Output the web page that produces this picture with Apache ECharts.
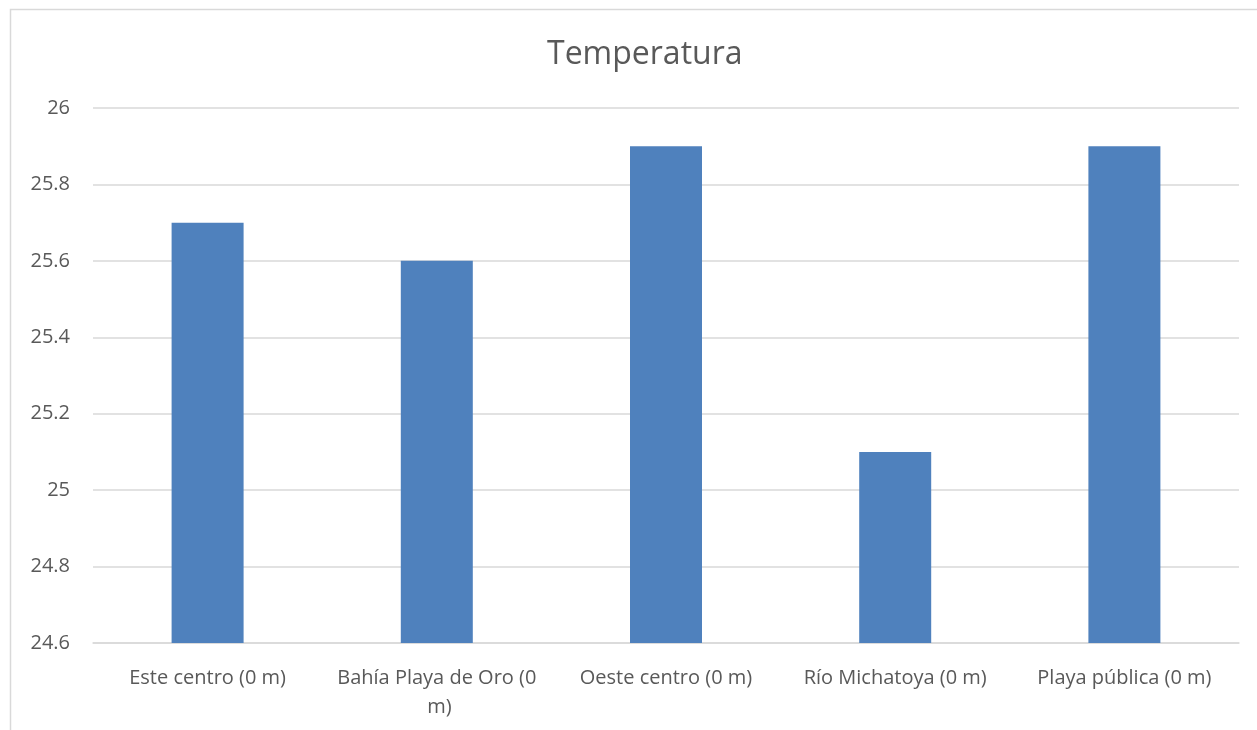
<!DOCTYPE html>
<html><head><meta charset="utf-8">
<script src="https://cdn.jsdelivr.net/npm/echarts@6/dist/echarts.min.js"></script>
<style>html,body{margin:0;padding:0;background:#fff;}#c{width:1257px;height:730px;}</style>
</head><body><div id="c"></div>
<script>
const categories = ['Este centro (0 m)', 'Bahía Playa de Oro (0 m)', 'Oeste centro (0 m)', 'Río Michatoya (0 m)', 'Playa pública (0 m)'];
const values = [25.7, 25.6, 25.9, 25.1, 25.9];
const titleText = 'Temperatura';
const chart = echarts.init(document.getElementById('c'), null, {renderer: 'canvas'});
const font = '"Open Sans", "Liberation Sans", sans-serif';
chart.setOption({
  animation: false,
  backgroundColor: '#fff',
  title: {text: titleText, left: 542, top: 34, textStyle: {fontFamily: font, fontSize: 32, fontWeight: 'normal', color: '#595959'}},
  grid: {left: 93, right: 18, top: 108, bottom: 87, containLabel: false},
  graphic: [{type: 'polyline', shape: {points: [[10.5, 730], [10.5, 9.5], [1257, 9.5]]}, style: {stroke: '#d9d9d9', lineWidth: 1.5, fill: null}, silent: true}],
  xAxis: {type: 'category', data: categories,
    axisLine: {lineStyle: {color: '#d9d9d9', width: 1.5}}, axisTick: {show: false},
    axisLabel: {fontFamily: font, fontSize: 20, color: '#595959', margin: 21, width: 215, overflow: 'break', lineHeight: 29, interval: 0}},
  yAxis: {type: 'value', min: 24.6, max: 26, interval: 0.2,
    axisLine: {show: false}, axisTick: {show: false},
    splitLine: {lineStyle: {color: '#d9d9d9', width: 1.5}},
    axisLabel: {fontFamily: font, fontSize: 20, color: '#595959', margin: 23, formatter: v => String(Math.round(v * 10) / 10)}},
  series: [{type: 'bar', data: values, barWidth: 72, itemStyle: {color: '#4f81bd'}}]
});
</script></body></html>
